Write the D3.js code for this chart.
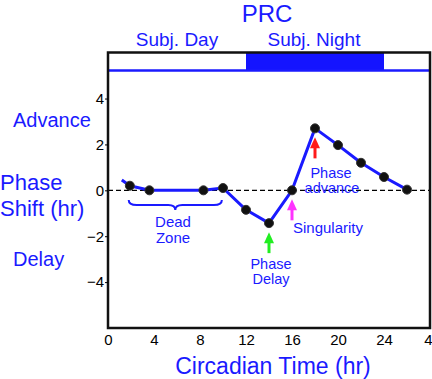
<!DOCTYPE html>
<html>
<head>
<meta charset="utf-8">
<script src="https://cdn.jsdelivr.net/npm/d3@7"></script>
<style>
  body { margin: 0; background: #fff; }
  svg { display: block; font-family: "Liberation Sans", Arial, sans-serif; }
</style>
</head>
<body>
<svg width="432" height="379"></svg>
<script>
// circadian time (hr) of each measured point and phase shift (hr)
const ct = [1.9, 3.6, 8.3, 10, 12, 14, 16, 18, 20, 22, 24, 26];
const shift = [0.2, 0.0, 0.0, 0.1, -0.85, -1.43, 0.0, 2.7, 1.97, 1.2, 0.58, 0.03];
// the drawn curve starts a bit before the first point
const curveStart = [1.2, 0.45];

const xTicks = [0, 4, 8, 12, 16, 20, 24, 28];
const xTickLabels = ["0", "4", "8", "12", "16", "20", "24", "4"];
const yTicks = [-4, -2, 0, 2, 4];

const subjNight = [12, 24];
const deadZone = [1.8, 9.9];

const blue = "#1a1aff";

const svg = d3.select("svg");

const x = d3.scaleLinear().domain([0, 28]).range([108, 430]);
const y = d3.scaleLinear().domain([-6, 5.2]).range([328, 71]);

// subjective day / night bar
svg.append("rect")
  .attr("x", x(subjNight[0]))
  .attr("y", 53)
  .attr("width", x(subjNight[1]) - x(subjNight[0]))
  .attr("height", 18)
  .attr("fill", "#1414ff");

svg.append("line")
  .attr("x1", x(0)).attr("x2", x(28))
  .attr("y1", 70.5).attr("y2", 70.5)
  .attr("stroke", blue)
  .attr("stroke-width", 2.5);

// zero line
svg.append("line")
  .attr("x1", x(0)).attr("x2", x(28))
  .attr("y1", y(0)).attr("y2", y(0))
  .attr("stroke", "#000")
  .attr("stroke-width", 1.2)
  .attr("stroke-dasharray", "5,3");

// frame
svg.append("rect")
  .attr("x", 108)
  .attr("y", 52.5)
  .attr("width", 322)
  .attr("height", 275.5)
  .attr("fill", "none")
  .attr("stroke", "#111")
  .attr("stroke-width", 2.5);

// axes
const yAxis = svg.append("g")
  .attr("transform", "translate(108,0)")
  .call(d3.axisLeft(y).tickValues(yTicks).tickSize(3).tickPadding(1).tickFormat(d3.format("d")));
yAxis.select(".domain").remove();
yAxis.selectAll("text").attr("font-size", 15).attr("font-family", null).attr("fill", "#000");

const xAxis = svg.append("g")
  .attr("transform", "translate(0,328)")
  .call(d3.axisBottom(x).tickValues(xTicks).tickSize(0).tickPadding(6)
    .tickFormat((d, i) => xTickLabels[i]));
xAxis.select(".domain").remove();
xAxis.selectAll("text").attr("font-size", 15).attr("font-family", null).attr("fill", "#000");
// last label sits against the right edge
xAxis.selectAll("text").filter((d, i) => i === xTicks.length - 1)
  .attr("text-anchor", "end").attr("dx", 2);

// curve
const pts = [curveStart].concat(ct.map((d, i) => [d, shift[i]]));
svg.append("path")
  .datum(pts)
  .attr("fill", "none")
  .attr("stroke", blue)
  .attr("stroke-width", 3)
  .attr("stroke-linejoin", "round")
  .attr("d", d3.line().x(d => x(d[0])).y(d => y(d[1])));

svg.selectAll("circle.pt")
  .data(ct)
  .enter()
  .append("circle")
  .attr("class", "pt")
  .attr("cx", d => x(d))
  .attr("cy", (d, i) => y(shift[i]))
  .attr("r", 4.5)
  .attr("fill", "#111")
  .attr("stroke", "#333")
  .attr("stroke-width", 1);

// dead zone brace
const bx0 = x(deadZone[0]), bx1 = x(deadZone[1]), bxm = (bx0 + bx1) / 2;
const by0 = 200, by1 = 205, by2 = 210;
svg.append("path")
  .attr("fill", "none")
  .attr("stroke", blue)
  .attr("stroke-width", 2)
  .attr("d", `M${bx0},${by0} Q${bx0},${by1} ${bx0 + 8},${by1} L${bxm - 7},${by1} Q${bxm},${by1} ${bxm},${by2}
    Q${bxm},${by1} ${bxm + 7},${by1} L${bx1 - 8},${by1} Q${bx1},${by1} ${bx1},${by0}`);

// arrows pointing up at points
const arrows = [
  { index: 7, color: "#ff1a1a" },
  { index: 6, color: "#ff33ff" },
  { index: 5, color: "#22ee22" },
];
arrows.forEach(a => {
  const ax = x(ct[a.index]);
  const tip = y(shift[a.index]) + 9;
  svg.append("line")
    .attr("x1", ax).attr("x2", ax)
    .attr("y1", tip + 6).attr("y2", tip + 21)
    .attr("stroke", a.color)
    .attr("stroke-width", 3);
  svg.append("path")
    .attr("fill", a.color)
    .attr("d", `M${ax},${tip} L${ax - 5},${tip + 11} L${ax + 5},${tip + 11} Z`);
});

// texts
const text = (t, tx, ty, size, anchor) =>
  svg.append("text")
    .attr("x", tx).attr("y", ty)
    .attr("font-size", size)
    .attr("text-anchor", anchor || "middle")
    .attr("fill", blue)
    .text(t);

text("PRC", 267, 22, 24);
text("Subj. Day", 177, 46, 19);
text("Subj. Night", 314, 46, 19);
text("Advance", 13, 127, 20, "start");
text("Phase", 0, 190, 22, "start");
text("Shift (hr)", 0, 216, 22, "start");
text("Delay", 13, 266, 20, "start");
text("Circadian Time (hr)", 273, 374, 23);
text("Dead", 173, 227, 15);
text("Zone", 173, 243, 15);
text("Phase", 271, 268.5, 14.5);
text("Delay", 271, 284, 14.5);
text("Singularity", 293, 233, 15, "start");
text("Phase", 331, 178, 14.5);
text("advance", 332, 193, 14.5);
</script>
</body>
</html>
